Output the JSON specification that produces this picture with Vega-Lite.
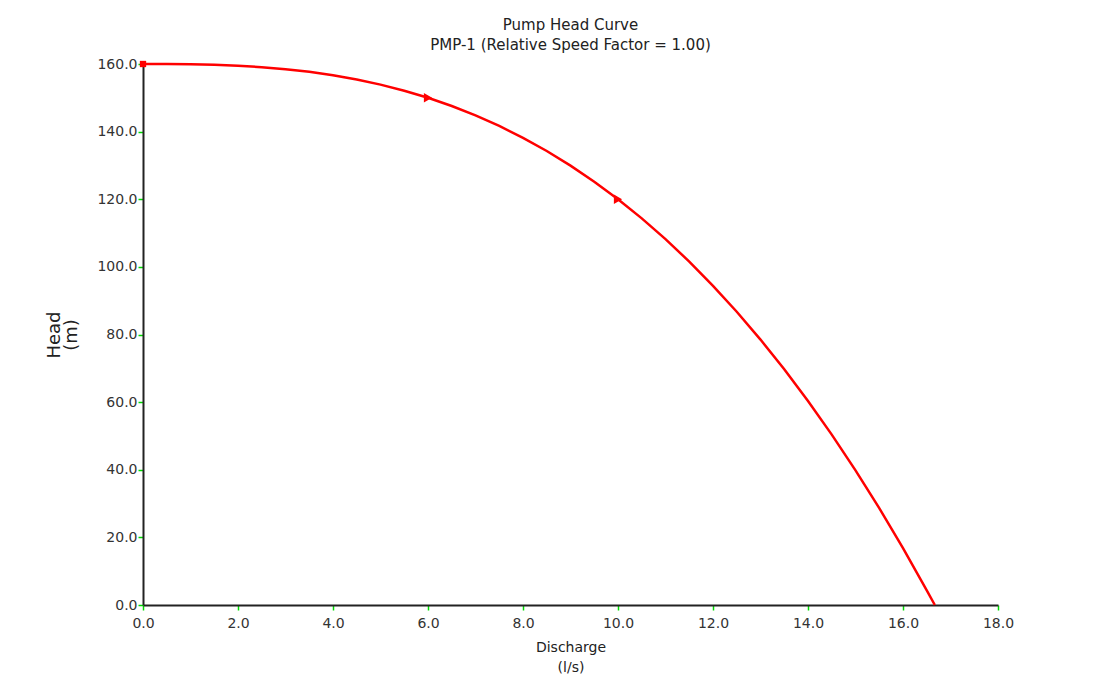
{
  "$schema": "https://vega.github.io/schema/vega-lite/v6.json",
  "autosize": "none",
  "width": 855,
  "height": 541,
  "padding": {"left": 143, "top": 64, "right": 109, "bottom": 89},
  "background": "white",
  "config": {
    "view": {"stroke": null},
    "font": "DejaVu Sans",
    "axis": {"grid": false, "labelFont": "DejaVu Sans", "titleFont": "DejaVu Sans", "labelFontSize": 14, "titleFontSize": 14, "titleFontWeight": "normal", "labelColor": "#333", "titleColor": "#222", "domainColor": "#222", "domainWidth": 2, "tickColor": "#00dd00", "tickWidth": 1.5, "tickSize": 5, "labelFlush": false, "labelOverlap": false}
  },
  "title": {
    "text": "Pump Head Curve",
    "subtitle": "PMP-1 (Relative Speed Factor = 1.00)",
    "anchor": "middle",
    "frame": "group",
    "font": "DejaVu Sans",
    "fontSize": 15,
    "fontWeight": "normal",
    "color": "#222",
    "subtitleFont": "DejaVu Sans",
    "subtitleFontSize": 15,
    "subtitleColor": "#222",
    "subtitlePadding": 5,
    "offset": 4
  },
  "datasets": {
    "curve": [
      {"Q": 0, "H": 160.0}, {"Q": 0.5, "H": 159.99}, {"Q": 1, "H": 159.92}, {"Q": 1.5, "H": 159.77},
      {"Q": 2, "H": 159.49}, {"Q": 2.5, "H": 159.07}, {"Q": 3, "H": 158.48}, {"Q": 3.5, "H": 157.68},
      {"Q": 4, "H": 156.67}, {"Q": 4.5, "H": 155.42}, {"Q": 5, "H": 153.9}, {"Q": 5.5, "H": 152.1},
      {"Q": 6, "H": 150.0}, {"Q": 6.5, "H": 147.58}, {"Q": 7, "H": 144.81}, {"Q": 7.5, "H": 141.68},
      {"Q": 8, "H": 138.17}, {"Q": 8.5, "H": 134.27}, {"Q": 9, "H": 129.95}, {"Q": 9.5, "H": 125.2},
      {"Q": 10, "H": 120.0}, {"Q": 10.5, "H": 114.34}, {"Q": 11, "H": 108.2}, {"Q": 11.5, "H": 101.56},
      {"Q": 12, "H": 94.4}, {"Q": 12.5, "H": 86.73}, {"Q": 13, "H": 78.5}, {"Q": 13.5, "H": 69.71},
      {"Q": 14, "H": 60.34}, {"Q": 14.5, "H": 50.38}, {"Q": 15, "H": 39.82}, {"Q": 15.5, "H": 28.64},
      {"Q": 16, "H": 16.82}, {"Q": 16.5, "H": 4.35}, {"Q": 16.67, "H": 0}
    ],
    "markers": [
      {"Q": 0, "H": 160, "type": "start"},
      {"Q": 6, "H": 150, "type": "arrow"},
      {"Q": 10, "H": 120, "type": "arrow"}
    ]
  },
  "encoding": {
    "x": {"field": "Q", "type": "quantitative", "scale": {"domain": [0, 18], "nice": false},
      "axis": {"values": [0, 2, 4, 6, 8, 10, 12, 14, 16, 18], "format": ".1f", "labelPadding": 6, "title": ["Discharge", "(l/s)"], "titlePadding": 10, "titleLineHeight": 20, "titleFontSize": 14}},
    "y": {"field": "H", "type": "quantitative", "scale": {"domain": [0, 160], "nice": false},
      "axis": {"values": [0, 20, 40, 60, 80, 100, 120, 140, 160], "format": ".1f", "labelPadding": 1, "title": ["Head", "(m)"], "titlePadding": 16, "titleLineHeight": 17, "titleFontSize": 18}}
  },
  "layer": [
    {"data": {"name": "curve"}, "mark": {"type": "line", "color": "#ff0000", "strokeWidth": 2.5, "clip": false}},
    {"data": {"name": "markers"}, "transform": [{"filter": "datum.type === 'start'"}], "mark": {"type": "point", "shape": "square", "filled": true, "color": "#ff0000", "size": 40, "opacity": 1}},
    {"data": {"name": "markers"}, "transform": [{"filter": "datum.type === 'arrow'"}], "mark": {"type": "point", "shape": "triangle-right", "filled": true, "color": "#ff0000", "size": 90, "opacity": 1}}
  ]
}
